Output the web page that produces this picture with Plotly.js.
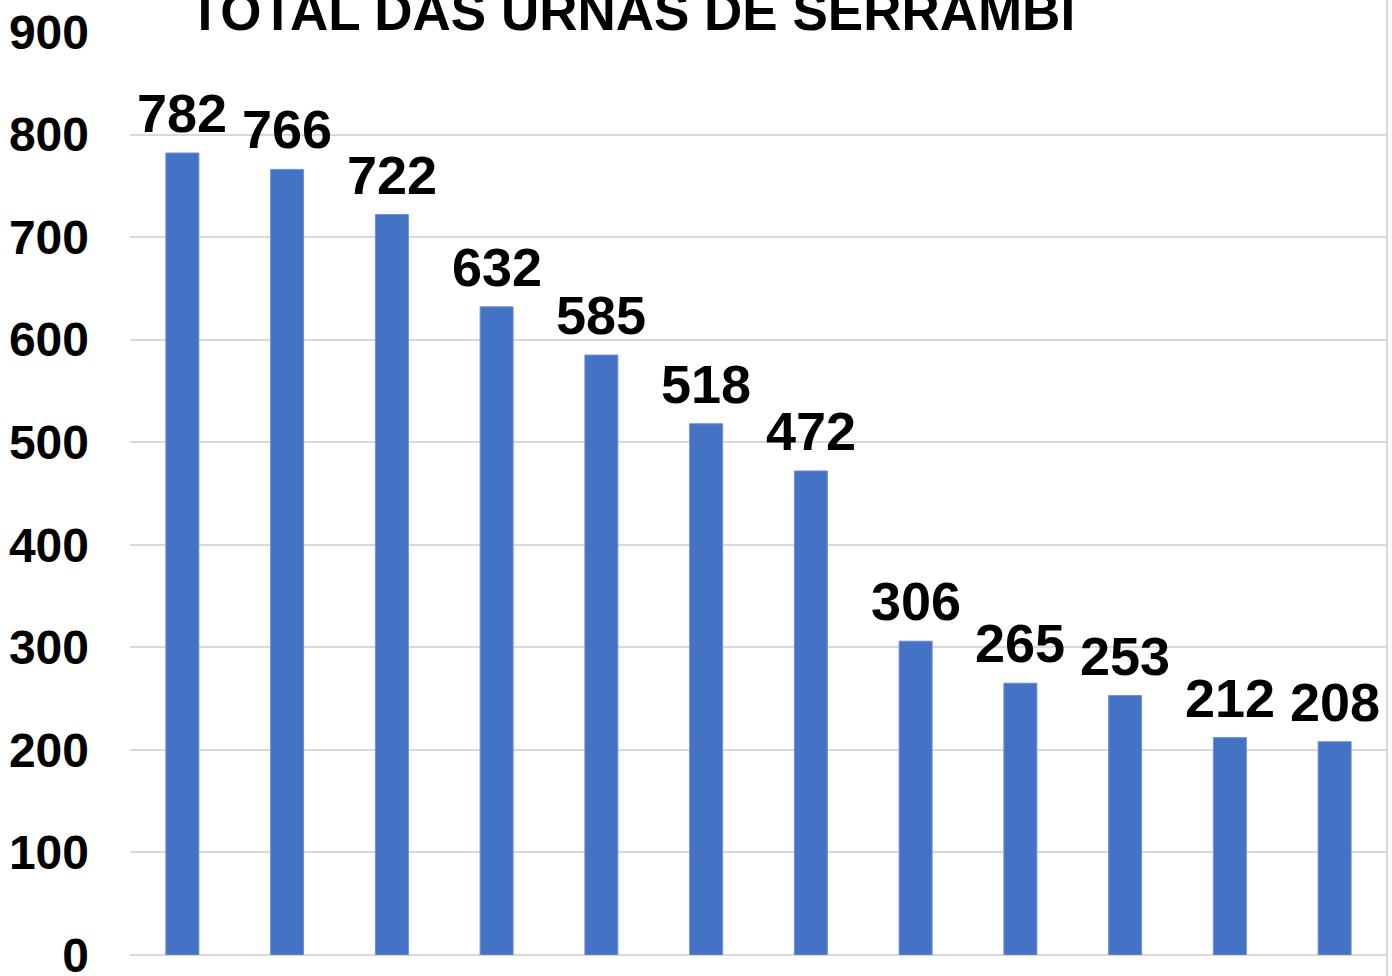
<!DOCTYPE html>
<html>
<head>
<meta charset="utf-8">
<script src="https://cdn.plot.ly/plotly-3.0.1.min.js"></script>
<style>
html,body{margin:0;padding:0;background:#fff;}
#chart{width:1392px;height:976px;}
</style>
</head>
<body>
<div id="chart"></div>
<script>
const categories = ["Urna 1","Urna 2","Urna 3","Urna 4","Urna 5","Urna 6","Urna 7","Urna 8","Urna 9","Urna 10","Urna 11","Urna 12"];
const values = [782, 766, 722, 632, 585, 518, 472, 306, 265, 253, 212, 208];
const yTicks = [0, 100, 200, 300, 400, 500, 600, 700, 800, 900];
const titleText = "TOTAL DAS URNAS DE SERRAMBI";

const trace = {
  type: "bar",
  x: categories,
  y: values,
  marker: {color: "#4472C4", line: {color: "#6F90D0", width: 1}},
  hoverinfo: "x+y"
};

const labelAnnotations = categories.map((c, i) => ({
  x: c, y: values[i], xref: "x", yref: "y",
  text: "<b>" + values[i] + "</b>",
  showarrow: false,
  xanchor: "center", yanchor: "bottom",
  yshift: 8,
  font: {family: "Liberation Sans, Arial, sans-serif", size: 54, color: "#000"}
}));

const layout = {
  width: 1392,
  height: 976,
  margin: {l: 130, r: 5, t: 32, b: 21},
  paper_bgcolor: "#fff",
  plot_bgcolor: "#fff",
  showlegend: false,
  bargap: 0.685,
  title: {
    text: "<b>" + titleText + "</b>",
    font: {family: "Liberation Sans Narrow, Arial Narrow, Liberation Sans, sans-serif", size: 53, color: "#000"},
    xref: "container", yref: "container",
    x: 0.454, xanchor: "center",
    y: 0.9887, yanchor: "middle"
  },
  xaxis: {
    type: "category",
    range: [-0.5, categories.length - 0.5],
    showticklabels: false,
    showgrid: false,
    zeroline: false,
    showline: false,
    ticks: ""
  },
  yaxis: {
    range: [0, 900],
    tickvals: yTicks,
    ticktext: yTicks.map(String),
    tickfont: {family: "Liberation Sans, Arial, sans-serif", size: 48, color: "#000", weight: "bold"},
    ticklabelstandoff: 40,
    ticklabeloverflow: "allow",
    showgrid: true,
    gridcolor: "#d9d9d9",
    gridwidth: 2,
    zeroline: true,
    zerolinecolor: "#d9d9d9",
    zerolinewidth: 2,
    showline: false,
    ticks: ""
  },
  annotations: labelAnnotations,
  shapes: [{
    type: "line", xref: "paper", yref: "paper",
    x0: 1, x1: 1, y0: -0.03, y1: 1.04,
    line: {color: "#d9d9d9", width: 2}
  }]
};

Plotly.newPlot("chart", [trace], layout, {displayModeBar: false, staticPlot: true});
</script>
</body>
</html>
